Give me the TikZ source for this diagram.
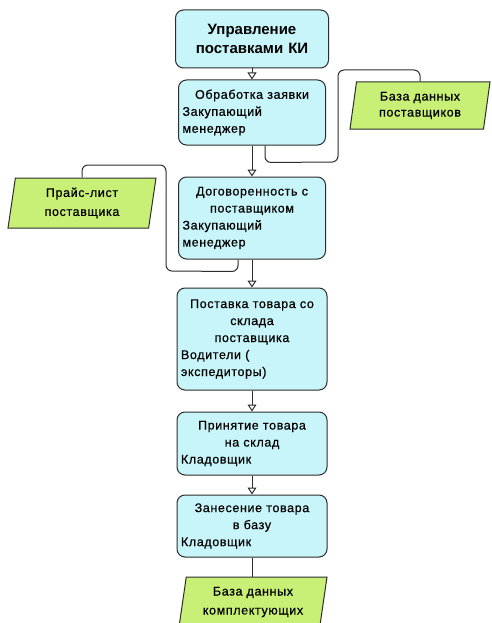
\documentclass[tikz,border=0pt]{standalone}
\usepackage{fontspec}
\setmainfont{Liberation Sans}
\newfontfamily\boxfont{Liberation Sans}[LetterSpace=5,UprightFeatures={FakeBold=0.6}]
\usetikzlibrary{arrows.meta,shapes.geometric}
\definecolor{boxcyan}{RGB}{200,245,250}
\definecolor{dbgreen}{RGB}{200,240,118}
\definecolor{edge}{RGB}{45,45,45}
\tikzset{
  proc/.style={draw=edge, line width=1pt, fill=boxcyan, rounded corners=8pt,
    minimum width=#1, inner sep=4pt, text width=#1-8pt, align=left,
    font=\boxfont\fontsize{12.5}{17}\selectfont},
  datastore/.style={trapezium, trapezium stretches body=true,
    trapezium left angle=76.5, trapezium right angle=103.5,
    draw=edge, line width=1pt, fill=dbgreen, align=center, inner sep=0pt,
    font=\boxfont\fontsize{12.5}{19}\selectfont},
  flow/.style={draw=edge, line width=1pt, -{Triangle[open,width=9pt,length=7pt]}},
  link/.style={draw=edge, line width=1pt, rounded corners=6pt},
}
\begin{document}
\begin{tikzpicture}[x=1pt,y=-1pt]
\useasboundingbox (0,0) rectangle (491,623);
\fill[white] (0,0) rectangle (491,623);

\node[proc=153pt, minimum height=58pt, align=center,
      font=\bfseries\fontsize{15}{19}\selectfont] (b1) at (252,39)
  {Управление\par поставками КИ};
\node[proc=147pt, minimum height=65pt] (b2) at (252,112.5)
  {\centering Обработка заявки\par\raggedright Закупающий\par менеджер};
\node[proc=147pt, minimum height=82pt] (b3) at (252,218)
  {\centering Договоренность с\par поставщиком\par\raggedright Закупающий\par менеджер};
\node[proc=150pt, minimum height=102pt] (b4) at (252,339)
  {\centering Поставка товара со\par склада\par поставщика\par\raggedright Водители (\par экспедиторы)};
\node[proc=150pt, minimum height=63pt] (b5) at (252,443.5)
  {\centering Принятие товара\par на склад\par\raggedright Кладовщик};
\node[proc=150pt, minimum height=62pt] (b6) at (252,526)
  {\centering Занесение товара\par в базу\par\raggedright Кладовщик};

\node[datastore, minimum width=148pt, minimum height=50pt] (prl) at (82,203)
  {Прайс-лист\\поставщика};
\node[datastore, minimum width=140pt, minimum height=47pt,
      font=\boxfont\fontsize{12.5}{16}\selectfont] (dbs) at (420,105.5)
  {База данных\\поставщиков};
\node[datastore, minimum width=148pt, minimum height=50pt] (dbk) at (253,602)
  {База данных\\комплектующих};

\draw[flow] (b1) -- (b2);
\draw[flow] (b2) -- (b3);
\draw[flow] (b3) -- (b4);
\draw[flow] (b4) -- (b5);
\draw[flow] (b5) -- (b6);
\draw[draw=edge, line width=1pt] (b6.south) -- (b6.south |- dbk.north);

\draw[link] ([xshift=13pt]b2.south) -- ++(0,17) -- (338,162) -- (338,70)
  -- (dbs.north |- 0,70) -- (dbs.north);
\draw[link] ([xshift=-14pt]b3.south) -- ++(0,12) -- (166,271) -- (166,165)
  -- (prl.north |- 0,165) -- (prl.north);
\end{tikzpicture}
\end{document}
